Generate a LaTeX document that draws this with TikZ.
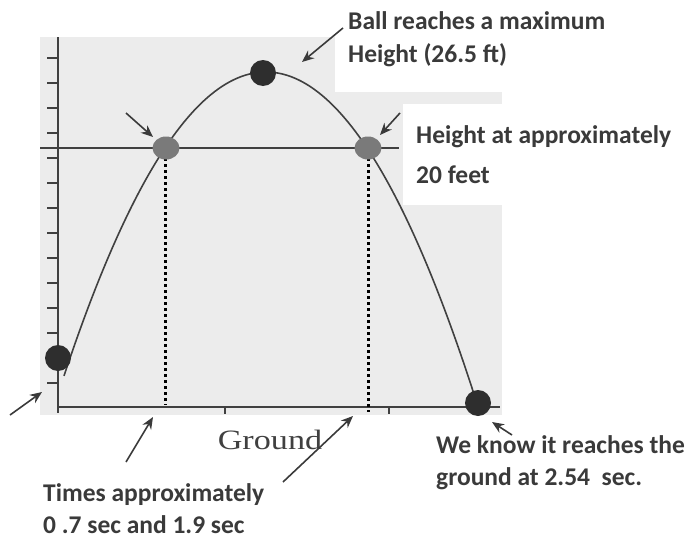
\documentclass[tikz,border=0pt]{standalone}
\usepackage{fontspec}
\setmainfont{Carlito}
\newfontfamily\groundfont{Liberation Serif}
\usetikzlibrary{arrows.meta,shapes.geometric}
\definecolor{txt}{HTML}{3A3A3A}
\definecolor{bg}{HTML}{ECECEC}
\definecolor{axis}{HTML}{404040}
\definecolor{darkball}{HTML}{2E2E2E}
\definecolor{grayball}{HTML}{7A7A7A}
\tikzset{
  label text/.style={anchor=base west, inner sep=0pt, text=txt, font=\fontsize{25.5}{28}\selectfont\bfseries},
  darkdot/.style={circle, fill=darkball, draw=none, minimum size=26pt, inner sep=0pt},
  graydot/.style={ellipse, fill=grayball, draw=none, minimum width=27pt, minimum height=23pt, inner sep=0pt},
  pointer/.style={draw=txt, line width=1.6pt, -{Stealth[length=12pt,width=10pt]}},
  axisline/.style={draw=axis, line width=1.7pt},
  dotline/.style={draw=black, line width=3pt, dash pattern=on 2.8pt off 3.2pt},
}
\begin{document}
\begin{tikzpicture}[x=1pt,y=-1pt]
\useasboundingbox (0,0) rectangle (694,538);
% background panel
\fill[bg] (40,37) rectangle (502,415);
\fill[white] (335,0) rectangle (694,92);
\fill[white] (403,104) rectangle (694,205);
% reference line at 20 ft
\draw[draw=axis, line width=1.2pt] (40,148) -- (399,148);
% axes
\draw[axisline] (58,37) -- (58,413);
\draw[axisline] (58,407) -- (500,407);
\foreach \k in {0,...,13} \draw[axis, line width=1.4pt] (47,58+25*\k) -- (58,58+25*\k);
\draw[axis, line width=1.4pt] (225,407) -- (225,414);
\draw[axis, line width=1.4pt] (389,407) -- (389,414);
% dotted verticals
\draw[dotline] (165,152) -- (165,405);
\draw[dotline] (368,152) -- (368,412);
% trajectory
\draw[draw=axis, line width=1.6pt, domain=64:476, samples=80, smooth] plot (\x, {72+0.00745*(\x-266)*(\x-266)});
% balls
\node[darkdot] (start) at (58,358) {};
\node[darkdot] (peak) at (263,73) {};
\node[darkdot] (land) at (478,403) {};
\node[graydot] (up) at (166,148) {};
\node[graydot] (down) at (368,148) {};
% texts
\node[label text] (tmax1) at (348,30) {Ball reaches a maximum};
\node[label text] (tmax2) at (348,62) {Height (26.5 ft)};
\node[label text] (th1) at (416,143) {Height at approximately};
\node[label text] (th2) at (416,183) {20 feet};
\node[label text] (tt1) at (43,501) {Times approximately};
\node[label text] (tt2) at (43,533) {0 .7 sec and 1.9 sec};
\node[label text] (tg1) at (436,453) {We know it reaches the};
\node[label text] (tg2) at (436,485) {ground at 2.54 \ sec.};
\node[anchor=base, inner sep=0pt, text=axis, font=\groundfont\fontsize{28}{30}\selectfont, xscale=1.22, transform shape] (ground) at (270,449) {Ground};
% pointers
\coordinate (p1s) at (343,28); \coordinate (p1e) at (302,62);
\coordinate (p2s) at (126,113); \coordinate (p2e) at (153,137);
\coordinate (p3s) at (400,113); \coordinate (p3e) at (380,135);
\coordinate (p4s) at (10,415); \coordinate (p4e) at (42,392);
\coordinate (p5s) at (126,462); \coordinate (p5e) at (153,417);
\coordinate (p6s) at (283,482); \coordinate (p6e) at (353,416);
\coordinate (p7s) at (512,435); \coordinate (p7e) at (492,422);
\foreach \i in {1,...,7} \draw[pointer] (p\i s) -- (p\i e);
\end{tikzpicture}
\end{document}
